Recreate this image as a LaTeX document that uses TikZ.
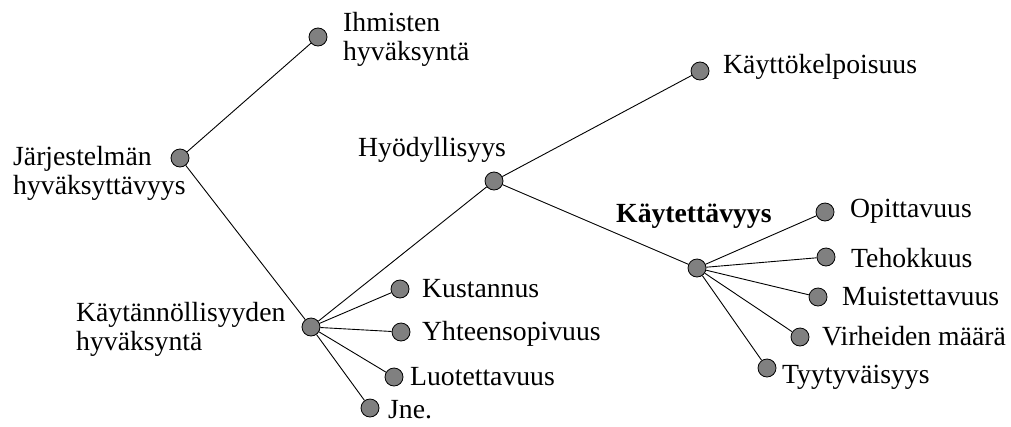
\documentclass[tikz,border=0pt]{standalone}
\usepackage{fontspec}
\setmainfont{Liberation Serif}
\begin{document}
\begin{tikzpicture}[x=1pt,y=-1pt,
  dot/.style={circle,draw=black,fill=black!50,line width=0.8pt,minimum size=18pt,inner sep=0pt},
  lbl/.style={anchor=base west,inner sep=0pt,align=left,font=\fontsize{27.7}{28.5}\selectfont},
  edge/.style={line width=0.9pt}]
\useasboundingbox (0,0) rectangle (1011,426);
% nodes
\node[dot] (J) at (180,158) {};
\node[dot] (I) at (318,37) {};
\node[dot] (K) at (311,327) {};
\node[dot] (H) at (494,181) {};
\node[dot] (KP) at (700,71) {};
\node[dot] (KV) at (697,268) {};
\node[dot] (Ku) at (400,289) {};
\node[dot] (Yh) at (401,332) {};
\node[dot] (Lu) at (394,377) {};
\node[dot] (Jn) at (370,408) {};
\node[dot] (Op) at (825,212) {};
\node[dot] (Te) at (826,257) {};
\node[dot] (Mu) at (818,297) {};
\node[dot] (Vi) at (800,337) {};
\node[dot] (Ty) at (767,368) {};
% edges
\draw[edge] (J) -- (I);
\draw[edge] (J) -- (K);
\draw[edge] (K) -- (H);
\draw[edge] (K) -- (Ku);
\draw[edge] (K) -- (Yh);
\draw[edge] (K) -- (Lu);
\draw[edge] (K) -- (Jn);
\draw[edge] (H) -- (KP);
\draw[edge] (H) -- (KV);
\draw[edge] (KV) -- (Op);
\draw[edge] (KV) -- (Te);
\draw[edge] (KV) -- (Mu);
\draw[edge] (KV) -- (Vi);
\draw[edge] (KV) -- (Ty);
% labels (multi-line: anchor at last line's baseline)
\node[lbl] (tJ) at (13,194) {Järjestelmän\\hyväksyttävyys};
\node[lbl] (tI) at (343,60) {Ihmisten\\hyväksyntä};
\node[lbl] (tK) at (76,350) {Käytännöllisyyden\\hyväksyntä};
\node[lbl] (tH) at (358,156) {Hyödyllisyys};
\node[lbl] (tKP) at (723,73) {Käyttökelpoisuus};
\node[lbl,font=\fontsize{27.7}{28.5}\selectfont\bfseries] (tKV) at (616,222) {Käytettävyys};
\node[lbl] (tKu) at (422,297) {Kustannus};
\node[lbl] (tYh) at (422,340) {Yhteensopivuus};
\node[lbl] (tLu) at (410,385) {Luotettavuus};
\node[lbl] (tJn) at (388,418) {Jne.};
\node[lbl] (tOp) at (850,217) {Opittavuus};
\node[lbl] (tTe) at (851,267) {Tehokkuus};
\node[lbl] (tMu) at (842,305) {Muistettavuus};
\node[lbl] (tVi) at (822,345) {Virheiden määrä};
\node[lbl] (tTy) at (782,383) {Tyytyväisyys};
\end{tikzpicture}
\end{document}
